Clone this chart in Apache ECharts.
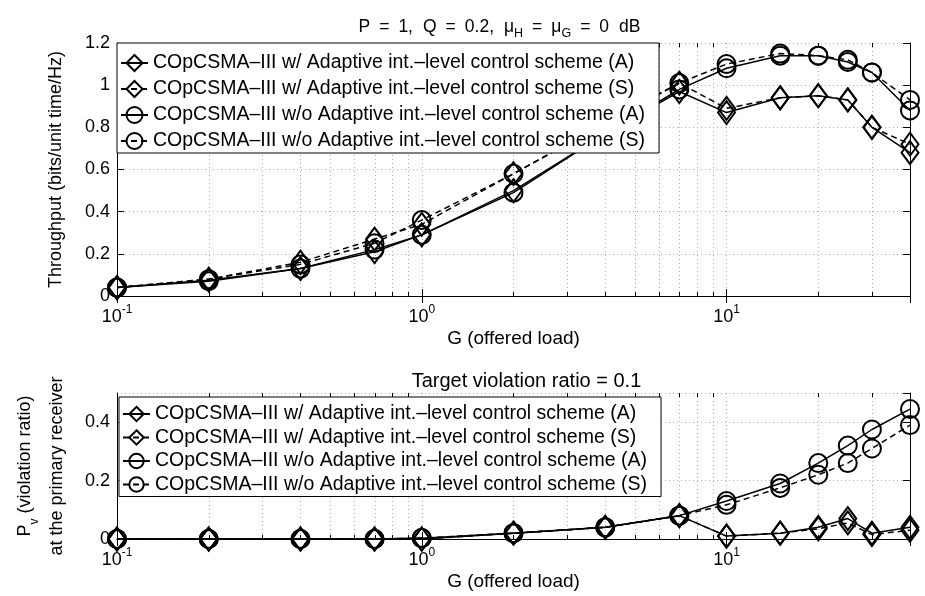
<!DOCTYPE html>
<html>
<head>
<meta charset="utf-8">
<script src="https://cdn.jsdelivr.net/npm/echarts@6/dist/echarts.min.js"></script>
<style>
html,body{margin:0;padding:0;background:#fff;}
#main{width:925px;height:596px;}
</style>
</head>
<body>
<div id="main"></div>
<script>
// ---- data ----
var gLoad = [0.1, 0.2, 0.4, 0.7, 1, 2, 4, 7, 10, 15, 20, 25, 30, 40];

var seriesNames = [
  'COpCSMA\u2013III w/ Adaptive int.\u2013level control scheme (A)',
  'COpCSMA\u2013III w/ Adaptive int.\u2013level control scheme (S)',
  'COpCSMA\u2013III w/o Adaptive int.\u2013level control scheme (A)',
  'COpCSMA\u2013III w/o Adaptive int.\u2013level control scheme (S)'
];

// throughput (top)
var thrWithA = [0.04, 0.075, 0.13, 0.21, 0.29, 0.50, 0.77, 0.97, 0.87, 0.94, 0.95, 0.93, 0.80, 0.68];
var thrWithS = [0.04, 0.08, 0.16, 0.27, 0.34, 0.58, 0.82, 1.01, 0.89, 0.94, 0.95, 0.93, 0.80, 0.72];
var thrWoA   = [0.04, 0.07, 0.13, 0.22, 0.29, 0.49, 0.77, 0.98, 1.08, 1.14, 1.14, 1.11, 1.06, 0.88];
var thrWoS   = [0.04, 0.08, 0.15, 0.25, 0.36, 0.58, 0.82, 1.01, 1.10, 1.15, 1.14, 1.12, 1.06, 0.93];

// violation ratio (bottom)
var vioWithA = [0, 0, 0, 0, 0, 0.02, 0.04, 0.08, 0.01, 0.02, 0.04, 0.07, 0.02, 0.04];
var vioWithS = [0, 0, 0, 0, 0, 0.02, 0.04, 0.08, 0.01, 0.02, 0.035, 0.055, 0.015, 0.03];
var vioWoA   = [0, 0, 0, 0, 0.003, 0.02, 0.04, 0.08, 0.13, 0.19, 0.26, 0.32, 0.375, 0.445];
var vioWoS   = [0, 0, 0, 0, 0.003, 0.02, 0.04, 0.08, 0.117, 0.175, 0.22, 0.26, 0.31, 0.39];

// ticks
var xMajorTicks = [0.1, 1, 10];
var xMajorLabels = ['-1', '0', '1'];
var xMinorTicks = [0.2, 0.3, 0.4, 0.5, 0.6, 0.7, 0.8, 0.9, 2, 3, 4, 5, 6, 7, 8, 9, 20, 30];

// titles (P = 1, Q = 0.2, μ_H = μ_G = 0 dB)
var topTitle = '{m|P}{e|=}{m|1,}{g|Q}{e|=}{m|0.2,}{g|\u03bc}{low|H}{e|=}{m|\u03bc}{low|G}{e|=}{m|0}{g|dB}';
var bottomTitle = 'Target violation ratio = 0.1';

// ---- chart ----
var FONT = '"Liberation Sans", Arial, Helvetica, sans-serif';
var chart = echarts.init(document.getElementById('main'), null, {renderer: 'canvas'});

function pairs(ys) { return gLoad.map(function (x, i) { return [x, ys[i]]; }); }

function xLabelFmt(v) {
  for (var i = 0; i < xMajorTicks.length; i++) {
    if (Math.abs(v - xMajorTicks[i]) / xMajorTicks[i] < 1e-6) {
      return '{b|10}{s|' + xMajorLabels[i] + '}';
    }
  }
  return '';
}

var gridDot = {color: '#b0b0b0', width: 1, type: [1, 3]};

function mkX(gi, pos, showLabel, name, nameGap, nameStyle) {
  return {
    gridIndex: gi, type: 'log', logBase: 10, min: 0.1, max: 40, position: pos,
    axisLine: {show: true, lineStyle: {color: '#000', width: 1}},
    axisTick: {show: true, inside: true, length: 7, lineStyle: {color: '#000'}},
    axisLabel: showLabel ? {
      show: true, margin: 8, formatter: xLabelFmt, showMaxLabel: false,
      rich: {
        b: {fontSize: 18, fontFamily: FONT, color: '#000', lineHeight: 26, verticalAlign: 'middle'},
        s: {fontSize: 12, fontFamily: FONT, color: '#000', lineHeight: 26, verticalAlign: 'top'}
      }
    } : {show: false},
    splitLine: {show: showLabel, lineStyle: gridDot},
    name: name, nameLocation: 'middle', nameGap: nameGap,
    nameTextStyle: nameStyle
  };
}

function mkY(gi, pos, showLabel, max, name, nameGap, rich) {
  var o = {
    gridIndex: gi, type: 'value', min: 0, max: max, interval: 0.2, position: pos,
    axisLine: {show: true, lineStyle: {color: '#000', width: 1}},
    axisTick: {show: true, inside: true, length: 7, lineStyle: {color: '#000'}},
    axisLabel: showLabel ? {show: true, margin: 7, fontSize: 18, fontFamily: FONT, color: '#000', showMaxLabel: max !== 0.5} : {show: false},
    splitLine: {show: showLabel, lineStyle: gridDot},
    name: name || '', nameLocation: 'middle', nameGap: nameGap || 60,
    nameTextStyle: {fontSize: 18, fontFamily: FONT, color: '#000'}
  };
  if (rich) { o.nameTextStyle.rich = rich; }
  return o;
}

function minorRender(params, api) {
  var cs = params.coordSys;
  var p = api.coord([api.value(0), api.value(1)]);
  var x = Math.round(p[0]) + 0.5;
  var t = cs.y, b = cs.y + cs.height;
  return {
    type: 'group', silent: true,
    children: [
      {type: 'line', shape: {x1: x, y1: t, x2: x, y2: b}, style: {stroke: '#b0b0b0', lineWidth: 1, lineDash: [1, 3]}},
      {type: 'line', shape: {x1: x, y1: b, x2: x, y2: b - 4}, style: {stroke: '#000', lineWidth: 1}},
      {type: 'line', shape: {x1: x, y1: t, x2: x, y2: t + 4}, style: {stroke: '#000', lineWidth: 1}}
    ]
  };
}

var symbols = ['diamond', 'diamond', 'circle', 'circle'];
var symSizes = [[17, 23], [17, 23], 18, 18];
var dashes = ['solid', [6, 4], 'solid', [6, 4]];

function mkSeries(gi, ys, k) {
  return {
    name: seriesNames[k], type: 'line', xAxisIndex: gi * 2, yAxisIndex: gi * 2,
    data: pairs(ys), symbol: symbols[k], symbolSize: symSizes[k], showSymbol: true,
    lineStyle: {color: '#000', width: 1.5, type: dashes[k]},
    itemStyle: {color: 'rgba(0,0,0,0)', borderColor: '#000', borderWidth: 2},
    emphasis: {disabled: true}, z: 3, animation: false
  };
}

var legendBase = {
  data: seriesNames, orient: 'vertical',
  itemWidth: 27, backgroundColor: '#fff', borderColor: '#000', borderWidth: 1,
  textStyle: {fontSize: 19.5, lineHeight: 20, fontFamily: FONT, color: '#000'}, z: 10
};

var xNameStyle = {fontSize: 19, fontFamily: FONT, color: '#000'};
var TS = 17.5;
var topTitleStyle = {
  fontSize: TS, fontFamily: FONT, color: '#000', padding: [0, 28, 0, 0],
  rich: {
    m: {fontSize: TS, fontFamily: FONT, color: '#000', lineHeight: 26, verticalAlign: 'middle'},
    e: {fontSize: TS, fontFamily: FONT, color: '#000', lineHeight: 26, verticalAlign: 'middle', padding: [0, 9, 0, 9]},
    g: {fontSize: TS, fontFamily: FONT, color: '#000', lineHeight: 26, verticalAlign: 'middle', padding: [0, 0, 0, 10]},
    low: {fontSize: 12.5, fontFamily: FONT, color: '#000', lineHeight: 26, verticalAlign: 'bottom'}
  }
};
var bottomTitleStyle = {fontSize: 20, fontFamily: FONT, color: '#000', padding: [0, 0, 0, 26]};

var option = {
  animation: false,
  backgroundColor: '#fff',
  grid: [
    {left: 117, top: 43, width: 793, height: 253},
    {left: 117, top: 393, width: 793, height: 146}
  ],
  legend: [
    Object.assign({}, legendBase, {left: 117, top: 43, itemHeight: 20, itemGap: 6, padding: [10, 14, 2, 3]}),
    Object.assign({}, legendBase, {left: 119, top: 397, itemHeight: 18, itemGap: 3.5, padding: [7, 14, 2, 3]})
  ],
  xAxis: [
    mkX(0, 'bottom', true, 'G (offered load)', 33, xNameStyle),
    mkX(0, 'top', false, topTitle, 3, topTitleStyle),
    mkX(1, 'bottom', true, 'G (offered load)', 33, xNameStyle),
    mkX(1, 'top', false, bottomTitle, 2, bottomTitleStyle)
  ],
  yAxis: [
    mkY(0, 'left', true, 1.2, 'Throughput (bits/unit time/Hz)', 52),
    mkY(0, 'right', false, 1.2),
    mkY(1, 'left', true, 0.5, '{a|P}{v|v}{a| (violation ratio)}\n{a|at the primary receiver}', 44, {
      a: {fontSize: 18, fontFamily: FONT, color: '#000', lineHeight: 32, verticalAlign: 'middle'},
      v: {fontSize: 12, fontFamily: FONT, color: '#000', lineHeight: 32, verticalAlign: 'bottom'}
    }),
    mkY(1, 'right', false, 0.5)
  ],
  series: [
    {type: 'custom', xAxisIndex: 0, yAxisIndex: 0, data: xMinorTicks.map(function (v) { return [v, 0]; }), renderItem: minorRender, silent: true, z: 1},
    {type: 'custom', xAxisIndex: 2, yAxisIndex: 2, data: xMinorTicks.map(function (v) { return [v, 0]; }), renderItem: minorRender, silent: true, z: 1},
    mkSeries(0, thrWithA, 0), mkSeries(0, thrWithS, 1), mkSeries(0, thrWoA, 2), mkSeries(0, thrWoS, 3),
    mkSeries(1, vioWithA, 0), mkSeries(1, vioWithS, 1), mkSeries(1, vioWoA, 2), mkSeries(1, vioWoS, 3)
  ]
};
chart.setOption(option);
</script>
</body>
</html>
